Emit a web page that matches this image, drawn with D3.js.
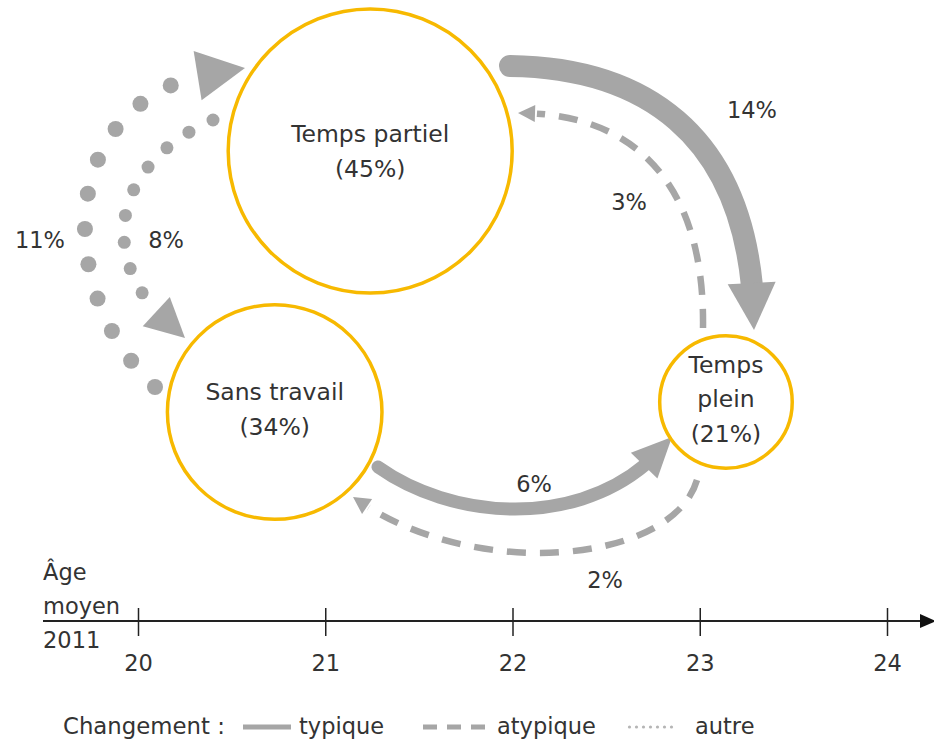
<!DOCTYPE html>
<html><head><meta charset="utf-8">
<script src="https://cdn.jsdelivr.net/npm/d3@7"></script>
<style>
body{margin:0;background:#fff}
svg{display:block}
text{font-family:"DejaVu Sans",sans-serif;fill:#333}
</style>
</head><body>
<svg id="c" width="934" height="742"></svg>
<script>
// ---------- DATA ----------
const states = ["Temps partiel", "Sans travail", "Temps plein"];
const statePct = [45, 34, 21];
const stateAge = [21.24, 20.73, 23.14];           // âge moyen en 2011
const stateLines = [["Temps partiel", "(45%)"], ["Sans travail", "(34%)"], ["Temps", "plein", "(21%)"]];

const flowFrom = ["Temps partiel", "Temps plein", "Sans travail", "Temps plein", "Sans travail", "Temps partiel"];
const flowTo   = ["Temps plein", "Temps partiel", "Temps plein", "Sans travail", "Temps partiel", "Sans travail"];
const flowPct  = [14, 3, 6, 2, 11, 8];
const flowType = ["typique", "atypique", "typique", "atypique", "autre", "autre"];

const ageTicks = [20, 21, 22, 23, 24];
const axisTitle = ["Âge", "moyen", "2011"];
const legendTitle = "Changement :";
const legendTypes = ["typique", "atypique", "autre"];

// ---------- LAYOUT / STYLE ----------
const gray = "#a6a6a6", gold = "#f7b900", ink = "#333";
const stateY = [151, 412, 402];
const stateTextDy = [0, -3, -3];
// cubic curves for each flow: start, c1, c2, tip
const flowGeom = [
  [510, 66, 660, 68, 754, 150, 754, 330],
  [703, 328, 705, 190, 640, 113, 518, 113],
  [378, 467, 460, 525, 600, 530, 672, 437],
  [697, 480, 672, 565, 470, 582, 353, 497],
  [155, 387, 50, 290, 50, 80, 245, 68],
  [213, 120, 108, 165, 92, 268, 185, 338]
];
const flowWidth = [22, 6.5, 13, 6.5, 16, 13];      // stroke width or dot diameter
const flowHead  = [[47, 24], [17, 8.5], [40, 18.5], [17, 9], [48, 25], [39, 20]];
const dotSpacing = [0, 0, 0, 0, 35.5, 27];
const flowLabelPos = [[752, 110], [629, 202], [534, 484], [605, 580], [40, 240], [166, 240]];

const svg = d3.select("#c");
const x = d3.scaleLinear().domain([20, 24]).range([138, 887]);
const r = d3.scaleLinear().domain([0, 45]).range([0, 142]);

// ---------- FLOWS ----------
const gFlows = svg.append("g");
const tmp = svg.append("path").attr("fill", "none").attr("stroke", "none");
flowPct.forEach((p, i) => {
  const g = flowGeom[i];
  const pth = d3.path();
  pth.moveTo(g[0], g[1]);
  pth.bezierCurveTo(g[2], g[3], g[4], g[5], g[6], g[7]);
  const d = pth.toString();
  tmp.attr("d", d);
  const node = tmp.node();
  const L = node.getTotalLength();
  const [hl, hw] = flowHead[i];
  const type = flowType[i];
  if (type === "autre") {
    const pts = [];
    for (let s = 0; s <= L - hl - 8; s += dotSpacing[i]) pts.push(node.getPointAtLength(s));
    gFlows.selectAll(null).data(pts).enter().append("circle")
      .attr("cx", q => q.x).attr("cy", q => q.y).attr("r", flowWidth[i] / 2).attr("fill", gray);
  } else {
    let dash;
    if (type === "typique") dash = `${L - hl + 2},${L}`;
    else {
      const dl = 19, gl = 14, len = L - hl - 2, arr = [];
      let s = 0;
      while (s + dl < len) { arr.push(dl, gl); s += dl + gl; }
      arr.push(Math.max(0, len - s), L);
      dash = arr.join(",");
    }
    gFlows.append("path").attr("d", d).attr("fill", "none").attr("stroke", gray)
      .attr("stroke-width", flowWidth[i])
      .attr("stroke-linecap", type === "typique" ? "round" : "butt")
      .attr("stroke-dasharray", dash);
  }
  const tip = node.getPointAtLength(L);
  const base = node.getPointAtLength(L - hl);
  let dx = tip.x - base.x, dy = tip.y - base.y;
  const n = Math.hypot(dx, dy); dx /= n; dy /= n;
  const bx = tip.x - dx * hl, by = tip.y - dy * hl;
  gFlows.append("path")
    .attr("d", d3.line()([[tip.x, tip.y], [bx - dy * hw, by + dx * hw], [bx + dy * hw, by - dx * hw]]) + "Z")
    .attr("fill", gray);
  svg.append("text").attr("x", flowLabelPos[i][0]).attr("y", flowLabelPos[i][1])
    .attr("text-anchor", "middle").attr("dy", "0.36em").attr("font-size", 22.5)
    .text(p + "%");
});
tmp.remove();

// ---------- STATES ----------
const gStates = svg.append("g");
states.forEach((s, i) => {
  const cx = x(stateAge[i]), cy = stateY[i];
  gStates.append("circle").attr("cx", cx).attr("cy", cy).attr("r", r(statePct[i]))
    .attr("fill", "none").attr("stroke", gold).attr("stroke-width", 3.5);
  const lines = stateLines[i];
  const lh = 34.5;
  const y0 = cy + stateTextDy[i] - (lines.length - 1) * lh / 2;
  lines.forEach((t, j) => {
    gStates.append("text").attr("x", cx).attr("y", y0 + j * lh).attr("dy", "0.36em")
      .attr("text-anchor", "middle").attr("font-size", 23.5).text(t);
  });
});

// ---------- AXIS ----------
const axisY = 621;
svg.append("line").attr("x1", 43).attr("x2", 922).attr("y1", axisY).attr("y2", axisY)
  .attr("stroke", "#222").attr("stroke-width", 2);
svg.append("path").attr("d", `M920,${axisY - 7}L936,${axisY}L920,${axisY + 7}Z`).attr("fill", "#111");
const ax = svg.append("g").attr("transform", `translate(0,${axisY})`)
  .call(d3.axisBottom(x).tickValues(ageTicks).tickSize(15).tickFormat(d3.format("d")));
ax.select(".domain").remove();
ax.attr("font-family", null).attr("font-size", null);
ax.selectAll(".tick line").attr("y1", -13).attr("y2", 15).attr("stroke", "#222").attr("stroke-width", 1.5);
ax.selectAll(".tick text").attr("y", 50).attr("dy", null).attr("font-size", 22.5).attr("fill", ink);

svg.append("g").selectAll("text").data(axisTitle).enter().append("text")
  .attr("x", 43).attr("y", (d, i) => 580 + i * 34).attr("font-size", 22.5).text(d => d);

// ---------- LEGEND ----------
const lg = svg.append("g");
const ly = 727;
lg.append("text").attr("x", 63).attr("y", 734).attr("font-size", 22.8).text(legendTitle);
const legX = [[243, 291, 299], [423, 487, 497], [628, 677, 695]];
legendTypes.forEach((t, i) => {
  const [a, b, tx] = legX[i];
  if (t === "autre") {
    const pts = d3.range(a, b, 7);
    lg.selectAll(null).data(pts).enter().append("circle")
      .attr("cx", d => d + 1.5).attr("cy", ly).attr("r", 1.6).attr("fill", "#b5b5b5");
  } else {
    lg.append("line").attr("x1", a).attr("x2", b).attr("y1", ly).attr("y2", ly)
      .attr("stroke", gray).attr("stroke-width", 5)
      .attr("stroke-dasharray", t === "atypique" ? "14,10" : null);
  }
  lg.append("text").attr("x", tx).attr("y", 734).attr("font-size", 22.5).text(t);
});
</script>
</body></html>
